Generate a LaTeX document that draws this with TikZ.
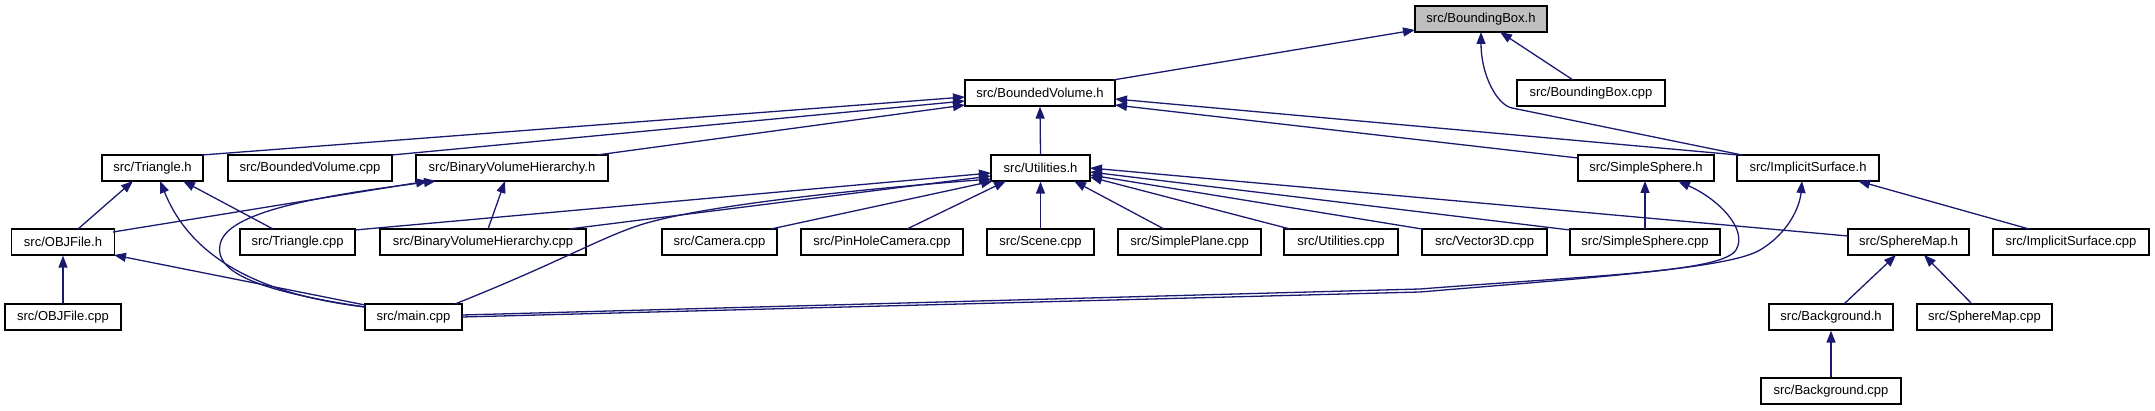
\documentclass[tikz,border=0pt]{standalone}
\usepackage{fontspec}
\setmainfont{Liberation Sans}
\usetikzlibrary{arrows.meta,calc}
\definecolor{edgecol}{HTML}{191970}
\definecolor{rootfill}{HTML}{BFBFBF}
\begin{document}
\begin{tikzpicture}[x=1pt,y=-1pt,
  box/.style={draw=black,line width=1.3pt,fill=white,minimum height=26pt,inner sep=0pt,
    font=\fontsize{13}{15}\selectfont},
  edge/.style={draw=edgecol,line width=1.3pt,-{Triangle[length=12pt,width=9pt]}}]
\useasboundingbox (0,0) rectangle (2155,411);
% row 0
\node[box,fill=rootfill,minimum width=132pt] (BBh) at (1481,19) {src/BoundingBox.h};
% row 1
\node[box,minimum width=150pt] (BVh) at (1040,93) {src/BoundedVolume.h};
\node[box,minimum width=148pt] (BBcpp) at (1591,93) {src/BoundingBox.cpp};
% row 2
\node[box,minimum width=101pt] (Trih) at (152.5,168) {src/Triangle.h};
\node[box,minimum width=164pt] (BVcpp) at (310,168) {src/BoundedVolume.cpp};
\node[box,minimum width=192pt] (BVHh) at (512,168) {src/BinaryVolumeHierarchy.h};
\node[box,minimum width=99pt] (Utilh) at (1040.5,168) {src/Utilities.h};
\node[box,minimum width=136pt] (SSh) at (1646,168) {src/SimpleSphere.h};
\node[box,minimum width=142pt] (ISh) at (1808,168) {src/ImplicitSurface.h};
% row 3
\node[box,minimum width=103pt] (OBJh) at (63,242) {src/OBJFile.h};
\node[box,minimum width=115pt] (Tricpp) at (297.5,242) {src/Triangle.cpp};
\node[box,minimum width=206pt] (BVHcpp) at (483,242) {src/BinaryVolumeHierarchy.cpp};
\node[box,minimum width=115pt] (Camcpp) at (719.5,242) {src/Camera.cpp};
\node[box,minimum width=162pt] (PHCcpp) at (882,242) {src/PinHoleCamera.cpp};
\node[box,minimum width=107pt] (Scenecpp) at (1040.5,242) {src/Scene.cpp};
\node[box,minimum width=143pt] (SPcpp) at (1189.5,242) {src/SimplePlane.cpp};
\node[box,minimum width=114pt] (Utilcpp) at (1341,242) {src/Utilities.cpp};
\node[box,minimum width=125pt] (V3Dcpp) at (1484.5,242) {src/Vector3D.cpp};
\node[box,minimum width=150pt] (SScpp) at (1645,242) {src/SimpleSphere.cpp};
\node[box,minimum width=121pt] (SMh) at (1908.5,242) {src/SphereMap.h};
\node[box,minimum width=156pt] (IScpp) at (2071,242) {src/ImplicitSurface.cpp};
% row 4
\node[box,minimum width=116pt] (OBJcpp) at (63,317) {src/OBJFile.cpp};
\node[box,minimum width=97pt] (maincpp) at (413.5,317) {src/main.cpp};
\node[box,minimum width=124pt] (Bgh) at (1831,317) {src/Background.h};
\node[box,minimum width=135pt] (SMcpp) at (1984.5,317) {src/SphereMap.cpp};
% row 5
\node[box,minimum width=140pt] (Bgcpp) at (1831,391) {src/Background.cpp};

% edges into BoundingBox.h
\draw[edge] ($(BVh)+(73,-13)$) -- ($(BBh)+(-66,11)$);
\draw[edge] ($(BBcpp)+(-18,-13)$) -- ($(BBh)+(19,13)$);
\draw[edge] ($(ISh)+(-66,-13)$) -- (1512,108) .. controls (1497,105) and (1481,75) .. ($(BBh)+(0,13)$);
% edges into BoundedVolume.h
\draw[edge] ($(Trih)+(49.5,-13)$) -- ($(BVh)+(-75,4)$);
\draw[edge] ($(BVcpp)+(82,-13)$) -- ($(BVh)+(-75,8)$);
\draw[edge] ($(BVHh)+(85,-13)$) -- ($(BVh)+(-75,12)$);
\draw[edge] (Utilh.north) -- (BVh.south);
\draw[edge] ($(SSh)+(-68,-10)$) -- ($(BVh)+(75,12)$);
\draw[edge] ($(ISh)+(-70,-13)$) -- ($(BVh)+(75,6)$);
% edges into Triangle.h
\draw[edge] ($(OBJh)+(15,-13)$) -- ($(Trih)+(-19.5,13)$);
\draw[edge] ($(Tricpp)+(-24.5,-13)$) -- ($(Trih)+(30.5,13)$);
\draw[edge] ($(maincpp)+(-48.5,-10)$) .. controls (220,290) and (180,230) .. ($(Trih)+(7.5,13)$);
% edges into BinaryVolumeHierarchy.h
\draw[edge] ($(OBJh)+(50,-10)$) -- ($(BVHh)+(-84,13)$);
\draw[edge] ($(maincpp)+(-48.5,-10)$) .. controls (250,290) and (215,270) .. (220,245) .. controls (225,215) and (300,198) .. ($(BVHh)+(-76,13)$);
\draw[edge] ($(BVHcpp)+(5,-13)$) -- ($(BVHh)+(-7,13)$);
% edges into OBJFile.h
\draw[edge] (OBJcpp.north) -- (OBJh.south);
\draw[edge] ($(maincpp)+(-48.5,-12)$) -- ($(OBJh)+(51,13)$);
% edges into Utilities.h
\draw[edge] ($(Tricpp)+(57.5,-12)$) -- ($(Utilh)+(-49.5,5)$);
\draw[edge] ($(BVHcpp)+(86,-13)$) -- ($(Utilh)+(-49.5,8)$);
\draw[edge] ($(maincpp)+(41.5,-13)$) .. controls (560,262) and (600,238) .. (640,225) .. controls (700,206) and (850,190) .. ($(Utilh)+(-49.5,11)$);
\draw[edge] ($(Camcpp)+(51.5,-13)$) -- ($(Utilh)+(-47.5,13)$);
\draw[edge] ($(PHCcpp)+(25,-13)$) -- ($(Utilh)+(-34.5,13)$);
\draw[edge] (Scenecpp.north) -- (Utilh.south);
\draw[edge] ($(SPcpp)+(-25.5,-13)$) -- ($(Utilh)+(33.5,13)$);
\draw[edge] ($(Utilcpp)+(-51,-13)$) -- ($(Utilh)+(49.5,9)$);
\draw[edge] ($(V3Dcpp)+(-62.5,-13)$) -- ($(Utilh)+(49.5,7)$);
\draw[edge] ($(SScpp)+(-75,-12)$) -- ($(Utilh)+(49.5,4)$);
\draw[edge] ($(SMh)+(-60.5,-6)$) -- ($(Utilh)+(49.5,0)$);
% edges into SimpleSphere.h
\draw[edge] ($(SScpp)+(0,-13)$) -- ($(SSh)+(-1,13)$);
\draw[edge] ($(maincpp)+(48.5,-2)$) -- (1420,289) .. controls (1600,275) and (1722,272) .. (1736,250) .. controls (1748,230) and (1720,200) .. ($(SSh)+(32,13)$);
% edges into ImplicitSurface.h
\draw[edge] ($(maincpp)+(48.5,0)$) -- (1420,292) .. controls (1600,277) and (1730,268) .. (1760,250) .. controls (1790,232) and (1800,205) .. ($(ISh)+(-6,13)$);
\draw[edge] ($(IScpp)+(-42,-13)$) -- ($(ISh)+(50,13)$);
% edges into SphereMap.h
\draw[edge] ($(Bgh)+(13,-13)$) -- ($(SMh)+(-12.5,13)$);
\draw[edge] ($(SMcpp)+(-12.5,-13)$) -- ($(SMh)+(15.5,13)$);
% edges into Background.h
\draw[edge] (Bgcpp.north) -- (Bgh.south);
\end{tikzpicture}
\end{document}
